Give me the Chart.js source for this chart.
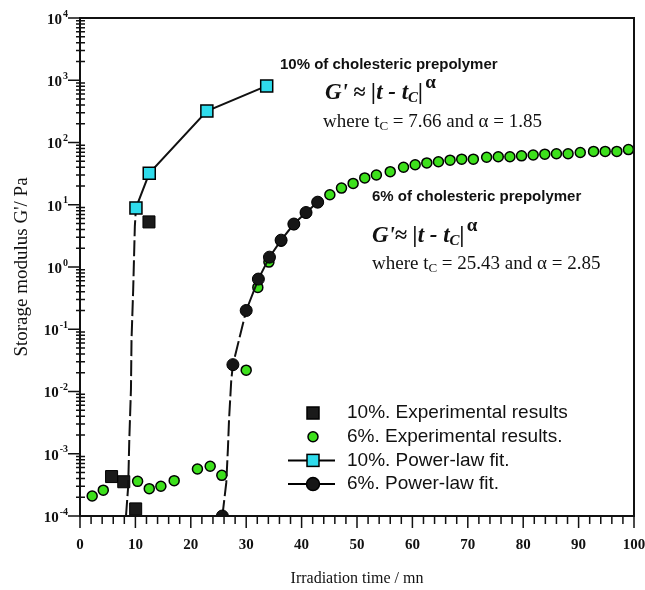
<!DOCTYPE html>
<html>
<head>
<meta charset="utf-8">
<script src="https://cdn.jsdelivr.net/npm/chart.js@4.4.1/dist/chart.umd.min.js"></script>
<style>
  html, body { margin: 0; padding: 0; background: #fff; }
  #wrap { width: 645px; height: 590px; }
</style>
</head>
<body>
<div id="wrap"><canvas id="c" width="645" height="590"></canvas></div>
<script>
// axis ticks
const xTicks = [0, 10, 20, 30, 40, 50, 60, 70, 80, 90, 100];
const yTicks = [1e-4, 1e-3, 1e-2, 1e-1, 1, 10, 100, 1000, 10000];
const yTickExps = ['-4', '-3', '-2', '-1', '0', '1', '2', '3', '4'];

// 10% experimental results (black squares)
const exp10X = [5.7, 7.9, 10.05, 12.45];
const exp10Y = [4.3e-4, 3.55e-4, 1.3e-4, 5.3];

// 6% experimental results (green circles)
const exp6X = [2.2, 4.2, 10.4, 12.5, 14.6, 17.0, 21.2, 23.5, 25.6, 30.0, 32.1, 34.1,
  36.3, 38.6, 40.8, 42.9, 45.1, 47.2, 49.3, 51.4, 53.5, 56.0, 58.4, 60.5, 62.6, 64.7,
  66.8, 68.9, 71.0, 73.4, 75.5, 77.6, 79.7, 81.8, 83.9, 86.0, 88.1, 90.3, 92.7, 94.8, 96.9, 99.0];
const exp6Y = [2.1e-4, 2.6e-4, 3.6e-4, 2.75e-4, 3.0e-4, 3.7e-4, 5.7e-4, 6.3e-4, 4.5e-4, 0.022, 0.47, 1.2,
  2.6, 4.8, 7.4, 11, 14.5, 18.5, 22, 27, 30, 34, 40, 44, 47, 49,
  52, 54, 54, 58, 59, 59, 61, 63, 65, 66, 66, 69, 72, 72, 72, 77];

// 10% power-law fit: markers and the steep part of the drawn curve
const fit10MarkX = [10.1, 12.5, 22.9, 33.7];
const fit10MarkY = [8.9, 32, 320, 810];
const fit10CurveX = [8.3, 8.7, 8.9, 9.2, 9.3, 9.6, 9.9];
const fit10CurveY = [1e-4, 3e-4, 1.7e-3, 0.011, 0.068, 0.43, 4.5];

// 6% power-law fit
const fit6MarkX = [25.7, 27.6, 30.0, 32.2, 34.2, 36.3, 38.6, 40.8, 42.9];
const fit6MarkY = [1e-4, 0.027, 0.2, 0.64, 1.44, 2.7, 4.9, 7.5, 11];
const fit6CurveX = [26.4, 26.7, 26.9, 27.3];
const fit6CurveY = [3.4e-4, 1.2e-3, 3.5e-3, 0.015];

const legendLabels = ['10%. Experimental results', '6%. Experimental results.', '10%. Power-law fit.', '6%. Power-law fit.'];

const SERIF = '"Liberation Serif", "DejaVu Serif", serif';
const SANS = '"Liberation Sans", Arial, sans-serif';
const GREEN = '#3de01c';
const CYAN = '#2fdcec';

const pts = (xs, ys) => xs.map((v, i) => ({ x: v, y: ys[i] }));
const lineOf = (ax, ay, bx, by) => pts(ax, ay).concat(pts(bx, by)).sort((p, q) => p.x - q.x);

// steep parts of the fitted curves look dashed in the original
const steepDash = c => Math.abs(c.p1.y - c.p0.y) > 4 * Math.abs(c.p1.x - c.p0.x) ? [16, 4] : undefined;

function rich(ctx, x, y, parts) {
  parts.forEach(p => {
    ctx.font = p.f;
    ctx.fillText(p.t, x + (p.dx || 0), y + (p.dy || 0));
    x += ctx.measureText(p.t).width + (p.dx || 0);
  });
}

const BI = 'italic bold 23px ' + SERIF;
const formula = gap => [
  { t: 'G\'', f: BI }, { t: gap ? ' ≈ ' : '≈ ', f: 'bold 22px ' + SERIF },
  { t: '|t - t', f: BI }, { t: 'C', f: 'italic bold 15px ' + SERIF, dy: 5 },
  { t: '|', f: BI }, { t: 'α', f: 'bold 19px ' + SERIF, dy: -10, dx: 2 }
];
const where = (tc, a) => [
  { t: 'where t', f: '19px ' + SERIF }, { t: 'C', f: '13px ' + SERIF, dy: 5 },
  { t: ' = ' + tc + ' and α = ' + a, f: '19px ' + SERIF }
];

const decor = {
  id: 'decor',
  afterDraw(chart) {
    const { ctx, chartArea: a, scales: { x, y } } = chart;
    ctx.save();
    ctx.strokeStyle = '#111';
    ctx.fillStyle = '#111';
    ctx.lineWidth = 2;
    ctx.strokeRect(a.left, a.top, a.right - a.left, a.bottom - a.top);

    ctx.beginPath();
    ctx.lineWidth = 1.5;
    for (let v = 0; v <= 100; v += 2) {
      const px = x.getPixelForValue(v);
      ctx.moveTo(px, a.bottom);
      ctx.lineTo(px, a.bottom + (v % 10 === 0 ? 12 : 8));
    }
    for (let d = -4; d < 4; d++) {
      for (let k = 2; k <= 9; k++) {
        const py = y.getPixelForValue(k * Math.pow(10, d));
        ctx.moveTo(a.left - 4, py);
        ctx.lineTo(a.left + 5, py);
      }
    }
    yTicks.forEach(v => {
      const py = y.getPixelForValue(v);
      ctx.moveTo(a.left - 12, py);
      ctx.lineTo(a.left, py);
    });
    ctx.stroke();

    // y tick labels with superscript exponents
    ctx.textBaseline = 'middle';
    yTicks.forEach((v, i) => {
      const py = y.getPixelForValue(v) + 2;
      ctx.font = 'bold 10px ' + SERIF;
      const ew = ctx.measureText(yTickExps[i]).width;
      ctx.font = 'bold 15px ' + SERIF;
      const bw = ctx.measureText('10').width;
      const right = a.left - 12;
      ctx.fillText('10', right - ew - bw - 1, py);
      ctx.font = 'bold 10px ' + SERIF;
      ctx.fillText(yTickExps[i], right - ew, py - 6);
    });

    // annotations
    ctx.font = 'bold 15px ' + SANS;
    ctx.fillText('10% of cholesteric prepolymer', a.left + 200, a.top + 47);
    rich(ctx, a.left + 245, a.top + 75, formula(true));
    rich(ctx, a.left + 243, a.top + 104, where('7.66', '1.85'));
    ctx.font = 'bold 15px ' + SANS;
    ctx.fillText('6% of cholesteric prepolymer', a.left + 292, a.top + 179);
    rich(ctx, a.left + 292, a.top + 218, formula(false));
    rich(ctx, a.left + 292, a.top + 246, where('25.43', '2.85'));

    // legend inside the plot
    const lx = a.left + 208, mx = a.left + 233, tx = a.left + 267;
    legendLabels.forEach((lab, i) => {
      const ly = a.top + 395 + i * 23.7;
      ctx.lineWidth = 2;
      ctx.strokeStyle = '#000';
      if (i >= 2) {
        ctx.beginPath();
        ctx.moveTo(lx, ly);
        ctx.lineTo(lx + 47, ly);
        ctx.stroke();
      }
      ctx.lineWidth = 1.5;
      if (i === 0 || i === 2) {
        ctx.fillStyle = i === 0 ? '#1a1a1a' : CYAN;
        ctx.fillRect(mx - 6, ly - 6, 12, 12);
        ctx.strokeRect(mx - 6, ly - 6, 12, 12);
      } else {
        ctx.beginPath();
        ctx.arc(mx, ly, i === 1 ? 5 : 6.5, 0, Math.PI * 2);
        ctx.fillStyle = i === 1 ? GREEN : '#161616';
        ctx.fill();
        ctx.stroke();
      }
      ctx.fillStyle = '#111';
      ctx.font = '19px ' + SANS;
      ctx.fillText(lab, tx, ly);
    });
    ctx.restore();
  }
};

new Chart(document.getElementById('c'), {
  type: 'scatter',
  data: {
    datasets: [
      { label: legendLabels[3], data: lineOf(fit6MarkX, fit6MarkY, fit6CurveX, fit6CurveY), showLine: true,
        borderColor: '#111', borderWidth: 2, pointRadius: 0, order: 1, segment: { borderDash: steepDash } },
      { label: legendLabels[3], data: pts(fit6MarkX, fit6MarkY), pointStyle: 'circle', pointRadius: 6,
        backgroundColor: '#161616', borderColor: '#000', borderWidth: 1, order: 0 },
      { label: legendLabels[2], data: lineOf(fit10MarkX, fit10MarkY, fit10CurveX, fit10CurveY), showLine: true,
        borderColor: '#111', borderWidth: 2, pointRadius: 0, order: 3, segment: { borderDash: steepDash } },
      { label: legendLabels[2], data: pts(fit10MarkX, fit10MarkY), pointStyle: 'rect', pointRadius: 8.5,
        backgroundColor: CYAN, borderColor: '#000', borderWidth: 1.5, order: 2 },
      { label: legendLabels[0], data: pts(exp10X, exp10Y), pointStyle: 'rect', pointRadius: 8.5,
        backgroundColor: '#1a1a1a', borderColor: '#000', borderWidth: 1, order: 4 },
      { label: legendLabels[1], data: pts(exp6X, exp6Y), pointStyle: 'circle', pointRadius: 5,
        backgroundColor: GREEN, borderColor: '#000', borderWidth: 1.5, order: 5 }
    ]
  },
  options: {
    responsive: false,
    animation: false,
    layout: { padding: { top: 18, right: 11, left: 0, bottom: 0 } },
    plugins: { legend: { display: false }, tooltip: { enabled: false } },
    scales: {
      x: {
        type: 'linear', min: 0, max: 100,
        afterBuildTicks: s => { s.ticks = xTicks.map(v => ({ value: v })); },
        afterFit: s => { s.height = 74; s.paddingLeft = 0; s.paddingRight = 0; },
        grid: { display: false, drawTicks: false },
        border: { display: false },
        ticks: { padding: 20, color: '#111', font: { family: SERIF, size: 15, weight: 'bold' }, maxRotation: 0 },
        title: { display: true, text: 'Irradiation time / mn', color: '#111',
          font: { family: SERIF, size: 16 }, padding: { top: 0, bottom: 2 } }
      },
      y: {
        type: 'logarithmic', min: 1e-4, max: 1e4,
        afterBuildTicks: s => { s.ticks = yTicks.map(v => ({ value: v })); },
        afterFit: s => { s.width = 80; s.paddingTop = 0; s.paddingBottom = 0; },
        grid: { display: false, drawTicks: false },
        border: { display: false },
        ticks: { display: false },
        title: { display: true, text: 'Storage modulus G\'/ Pa', color: '#111',
          font: { family: SERIF, size: 19 }, padding: { top: 11, bottom: 0 } }
      }
    }
  },
  plugins: [decor]
});
</script>
</body>
</html>
